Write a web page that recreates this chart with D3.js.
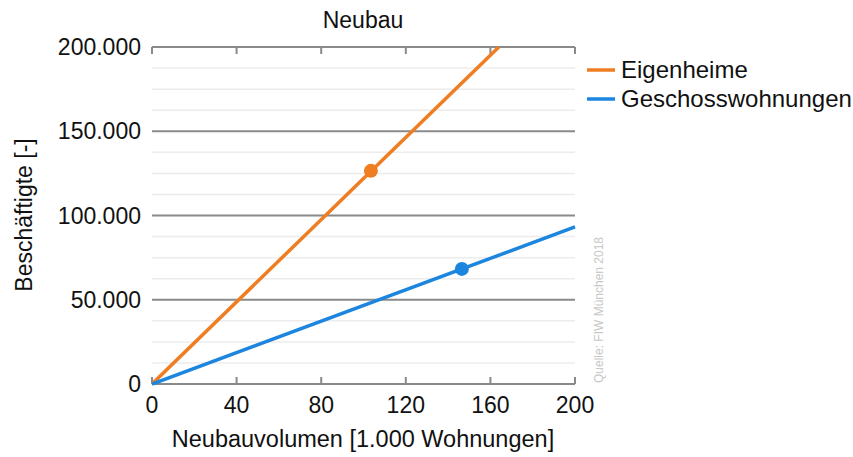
<!DOCTYPE html>
<html>
<head>
<meta charset="utf-8">
<script src="https://cdn.jsdelivr.net/npm/d3@7"></script>
<style>
  html, body { margin: 0; padding: 0; background: #fff; }
  svg { display: block; font-family: "Liberation Sans", Arial, sans-serif; }
</style>
</head>
<body>
<svg id="chart" width="853" height="457"></svg>
<script>
// Series: employment vs. new-build volume (thousand dwellings)
const seriesNames = ["Eigenheime", "Geschosswohnungen"];
const eigenheimeLine = [[0, 0], [164, 200000]];
const geschossLine = [[0, 0], [200, 93200]];
const eigenheimePoint = [103.5, 126500];
const geschossPoint = [146.5, 68300];
const xTicks = [0, 40, 80, 120, 160, 200];
const yTicks = [0, 50000, 100000, 150000, 200000];
const yMinorTicks = d3.range(0, 200001, 12500);
const colors = ["#ef7d22", "#1c86df"];

const svg = d3.select("#chart");
const plotLeft = 152, plotRight = 575, plotTop = 47, plotBottom = 384;

const x = d3.scaleLinear().domain([0, 200]).range([plotLeft, plotRight]);
const y = d3.scaleLinear().domain([0, 200000]).range([plotBottom, plotTop]);
const fmt = v => v === 0 ? "0" : d3.format(",")(v).replace(/,/g, ".");

// Minor gridlines
svg.append("g").selectAll("line")
  .data(yMinorTicks.filter(v => v % 50000 !== 0))
  .join("line")
  .attr("x1", plotLeft).attr("x2", plotRight)
  .attr("y1", d => y(d)).attr("y2", d => y(d))
  .attr("stroke", "#ececec").attr("stroke-width", 1.5);

// Major gridlines
svg.append("g").selectAll("line")
  .data(yTicks)
  .join("line")
  .attr("x1", plotLeft).attr("x2", plotRight)
  .attr("y1", d => y(d)).attr("y2", d => y(d))
  .attr("stroke", "#8a8a8a").attr("stroke-width", 2);

// Inward tick marks on top and bottom borders
const tickG = svg.append("g").attr("stroke", "#8a8a8a").attr("stroke-width", 2);
tickG.selectAll("line.b").data(xTicks).join("line").attr("class", "b")
  .attr("x1", d => x(d)).attr("x2", d => x(d))
  .attr("y1", plotBottom).attr("y2", plotBottom - 7);
tickG.selectAll("line.t").data(xTicks).join("line").attr("class", "t")
  .attr("x1", d => x(d)).attr("x2", d => x(d))
  .attr("y1", plotTop).attr("y2", plotTop + 7);

// Tick labels
svg.append("g").selectAll("text")
  .data(yTicks).join("text")
  .attr("x", 141).attr("y", d => y(d)).attr("dy", "0.35em")
  .attr("text-anchor", "end").attr("font-size", 23).attr("fill", "#111")
  .text(fmt);
svg.append("g").selectAll("text")
  .data(xTicks).join("text")
  .attr("x", d => x(d)).attr("y", 413)
  .attr("text-anchor", "middle").attr("font-size", 23).attr("fill", "#111")
  .text(d => d);

// Lines, clipped to the plot area
svg.append("clipPath").attr("id", "plot")
  .append("rect").attr("x", plotLeft).attr("y", plotTop - 2)
  .attr("width", plotRight - plotLeft + 2).attr("height", plotBottom - plotTop + 4);

const line = d3.line().x(d => x(d[0])).y(d => y(d[1]));
const plot = svg.append("g").attr("clip-path", "url(#plot)");
[eigenheimeLine, geschossLine].forEach((data, i) => {
  plot.append("path").attr("d", line(data))
    .attr("fill", "none").attr("stroke", colors[i])
    .attr("stroke-width", 3.5).attr("stroke-linecap", "butt");
});
[eigenheimePoint, geschossPoint].forEach((p, i) => {
  svg.append("circle").attr("cx", x(p[0])).attr("cy", y(p[1]))
    .attr("r", 7).attr("fill", colors[i]);
});

// Titles
svg.append("text").attr("x", 363).attr("y", 28).attr("text-anchor", "middle")
  .attr("font-size", 23).attr("fill", "#111").text("Neubau");
svg.append("text").attr("x", 363).attr("y", 447).attr("text-anchor", "middle")
  .attr("font-size", 23.5).attr("fill", "#111").text("Neubauvolumen [1.000 Wohnungen]");
svg.append("text").attr("transform", "translate(32,215) rotate(-90)")
  .attr("text-anchor", "middle").attr("font-size", 23).attr("fill", "#111")
  .text("Beschäftigte [-]");

// Source note
svg.append("text").attr("transform", "translate(603,310) rotate(-90)")
  .attr("text-anchor", "middle").attr("font-size", 12).attr("fill", "#c8c8c8")
  .text("Quelle: FIW München 2018");

// Legend
const legend = svg.append("g");
seriesNames.forEach((name, i) => {
  const ly = 70 + i * 29;
  legend.append("line").attr("x1", 587).attr("x2", 615)
    .attr("y1", ly).attr("y2", ly)
    .attr("stroke", colors[i]).attr("stroke-width", 3.5);
  legend.append("text").attr("x", 621).attr("y", ly).attr("dy", "0.35em")
    .attr("font-size", 24).attr("fill", "#111").text(name);
});
</script>
</body>
</html>
